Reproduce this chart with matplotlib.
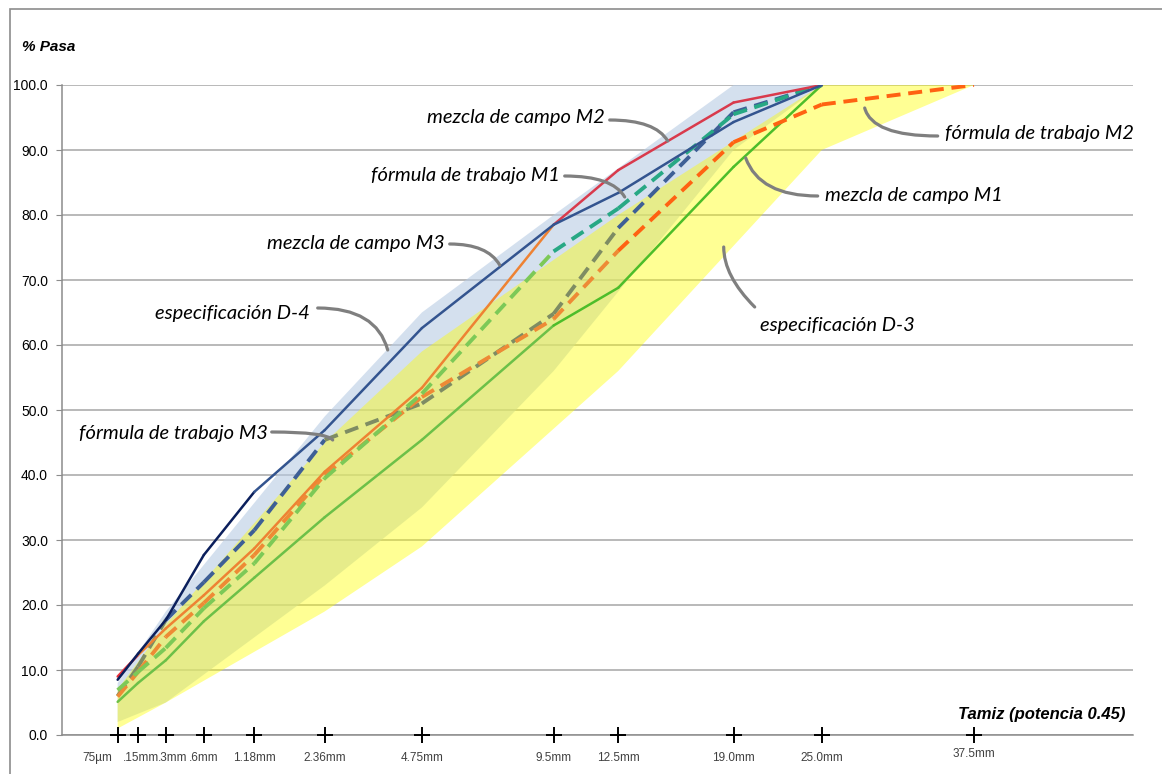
import numpy as np
import matplotlib
matplotlib.use("Agg")
import matplotlib.pyplot as plt
from matplotlib.patches import Rectangle

# sieve sizes (mm), x axis is size ^ 0.45
sieves = [0.075, 0.15, 0.3, 0.6, 1.18, 2.36, 4.75, 9.5, 12.5, 19.0, 25.0, 37.5]
sieve_labels = ["75µm", ".15mm", ".3mm", ".6mm", "1.18mm", "2.36mm", "4.75mm",
                "9.5mm", "12.5mm", "19.0mm", "25.0mm", "37.5mm"]

# specification D-3 band
d3_sieves = [0.075, 0.3, 2.36, 4.75, 12.5, 25.0, 37.5]
d3_low = [1, 5, 19, 29, 56, 90, 100]
d3_high = [7, 17, 45, 59, 80, 100, 100]

# specification D-4 band
d4_sieves = [0.075, 0.3, 2.36, 4.75, 9.5, 19.0, 25.0]
d4_low = [2, 5, 23, 35, 56, 90, 100]
d4_high = [8, 19, 49, 65, 80, 100, 100]

# % passing, 0.075 mm .. 25 mm (formula M2 goes to 37.5 mm)
campo_m1 = [5.1, 8.0, 11.5, 17.5, 24.2, 33.5, 45.4, 63.0, 68.8, 87.4, 100]
formula_m1 = [6.9, 9.7, 13.4, 19.5, 26.4, 39.5, 52.5, 74.4, 81.0, 95.5, 100]
campo_m2 = [9.0, 12.3, 16.4, 21.5, 28.7, 40.5, 53.4, 78.5, 86.9, 97.3, 100]
formula_m2 = [5.9, 9.7, 15.1, 20.3, 27.7, 40.0, 52.0, 64.0, 74.5, 91.2, 97.0, 100]
campo_m3 = [8.5, 12.5, 17.7, 27.7, 37.4, 46.9, 62.6, 78.5, 83.4, 94.3, 100]
formula_m3 = [6.0, 10.5, 17.7, 23.5, 31.5, 45.4, 51.0, 64.8, 78.0, 95.8, 100]


def px(s):
    return np.asarray(s, dtype=float) ** 0.45


fig = plt.figure(figsize=(11.62, 7.74), dpi=100)
W, H = 1162, 774
ax = fig.add_axes([62 / W, 1 - 735 / H, (1133 - 62) / W, (735 - 85) / H])
ax.set_xlim(0, 6.0)
ax.set_ylim(0, 100)

# outer chart frame
fig.patches.append(Rectangle((10 / W, -0.2), 1.5, 1.2 - 8.5 / H, transform=fig.transFigure,
                             fill=False, edgecolor="#8C8C8C", lw=1.2))

# spec bands
xh, xl = px(d4_sieves), px(d4_sieves)[::-1]
ax.fill(np.r_[xh, xl], np.r_[d4_high, d4_low[::-1]], color="#B8CCE4", alpha=0.6, lw=0, zorder=1)
xh, xl = px(d3_sieves), px(d3_sieves)[::-1]
ax.fill(np.r_[xh, xl], np.r_[d3_high, d3_low[::-1]], color="#FFFF00", alpha=0.42, lw=0, zorder=2)

# line series: values, line style, width, per segment colours
GR, GR2 = "#6CC048", "#4DBD2A"
LG, TEAL = "#7CC957", "#27A884"
OR, RED, RED0 = "#EE8233", "#D93A4C", "#E8303A"
ORD, ORD2 = "#EE8A35", "#FF6212"
NAVY, BLUE = "#0B1F5C", "#33548F"
GRAY, BLUED = "#7E8C63", "#3E5F96"

series = [
    (campo_m1, "-", 1.8, [GR] * 7 + [GR2] * 3),
    (formula_m3, (0, (3.6, 2.0)), 2.8, [GRAY] * 2 + [BLUED] * 3 + [GRAY] * 3 + [BLUED] * 2),
    (formula_m2, (0, (3.6, 2.0)), 2.8, [ORD] * 8 + [ORD2] * 3),
    (formula_m1, (0, (3.6, 2.0)), 2.8, [LG] * 7 + [TEAL] * 3),
    (campo_m2, "-", 1.8, [RED0] + [OR] * 6 + [RED] * 3),
    (campo_m3, "-", 1.8, [NAVY] * 4 + [BLUE] * 6),
]
for vals, ls, lw, cols in series:
    xs = px(sieves[:len(vals)])
    for i, c in enumerate(cols):
        ax.plot(xs[i:i + 2], vals[i:i + 2], ls=ls, lw=lw, color=c, zorder=4,
                solid_capstyle="round", dash_capstyle="butt")

# sieve markers and labels on the x axis
xs_all = px(sieves)
ax.plot(xs_all, np.zeros(len(sieves)), "+", color="black", ms=11, mew=1.4,
        clip_on=False, zorder=6)
label_dx = [-20, 3, 7, 0, 0, 0, 0, 0, 0, 0, 0, 0]
label_dy = [-23] * 11 + [-19]
for x, lab, dx, dy in zip(xs_all, sieve_labels, label_dx, label_dy):
    ax.annotate(lab, (x, 0), xytext=(dx, dy), textcoords="offset pixels",
                ha="center", va="center", fontsize=8.5, color="#404040",
                family="Liberation Sans", annotation_clip=False)

# axes styling
ax.set_yticks(np.arange(0, 101, 10))
ax.set_yticklabels([f"{v:.1f}" for v in range(0, 101, 10)], family="Liberation Sans", fontsize=10)
ax.set_xticks([])
ax.tick_params(axis="y", length=4, color="#8C8C8C", pad=6)
ax.yaxis.grid(True, color="#A6A6A6", lw=1.1, zorder=0)
ax.set_axisbelow(True)
for side in ["top", "right"]:
    ax.spines[side].set_visible(False)
for side in ["left", "bottom"]:
    ax.spines[side].set_color("#8C8C8C")
    ax.spines[side].set_linewidth(1.1)

fig.text(22 / W, 1 - 47 / H, "% Pasa", family="Liberation Sans", fontsize=11,
         fontweight="bold", style="italic", va="center")
fig.text(1125 / W, 1 - 715 / H, "Tamiz (potencia 0.45)", family="Liberation Sans", fontsize=12,
         fontweight="bold", style="italic", va="center", ha="right")


# hand-drawn style callouts
def to_data(p, q):
    return ((p - 62.3) / 178.5, (735 - q) / 6.5)


notes = [
    ("mezcla de campo M2", (605, 117), "right", (610, 120), (668, 141), "angle3,angleA=0,angleB=-60"),
    ("fórmula de trabajo M1", (560, 175), "right", (565, 176), (625, 197), "angle3,angleA=0,angleB=-60"),
    ("mezcla de campo M3", (445, 243), "right", (450, 244), (500, 265), "angle3,angleA=0,angleB=-60"),
    ("especificación D-4", (310, 313), "right", (318, 308), (388, 350), "angle3,angleA=0,angleB=-75"),
    ("fórmula de trabajo M3", (268, 434), "right", (272, 432), (333, 440), "angle3,angleA=0,angleB=-50"),
    ("fórmula de trabajo M2", (945, 133), "left", (938, 136), (865, 108), "angle3,angleA=0,angleB=-75"),
    ("mezcla de campo M1", (825, 195), "left", (818, 196), (746, 158), "angle3,angleA=0,angleB=-70"),
    ("especificación D-3", (760, 325), "left", (755, 307), (724, 247), "angle3,angleA=135,angleB=90"),
]
for text, tpos, ha, start, end, conn in notes:
    ax.text(*to_data(*tpos), text, ha=ha, va="center", fontsize=14.5,
            family="Lato", style="italic", color="black", zorder=7)
    ax.annotate("", xy=to_data(*end), xytext=to_data(*start),
                arrowprops=dict(arrowstyle="-", color="#7F7F7F", lw=2.3,
                                connectionstyle=conn, shrinkA=0, shrinkB=0),
                zorder=7, annotation_clip=False)

fig.savefig("out.png", dpi=100)
